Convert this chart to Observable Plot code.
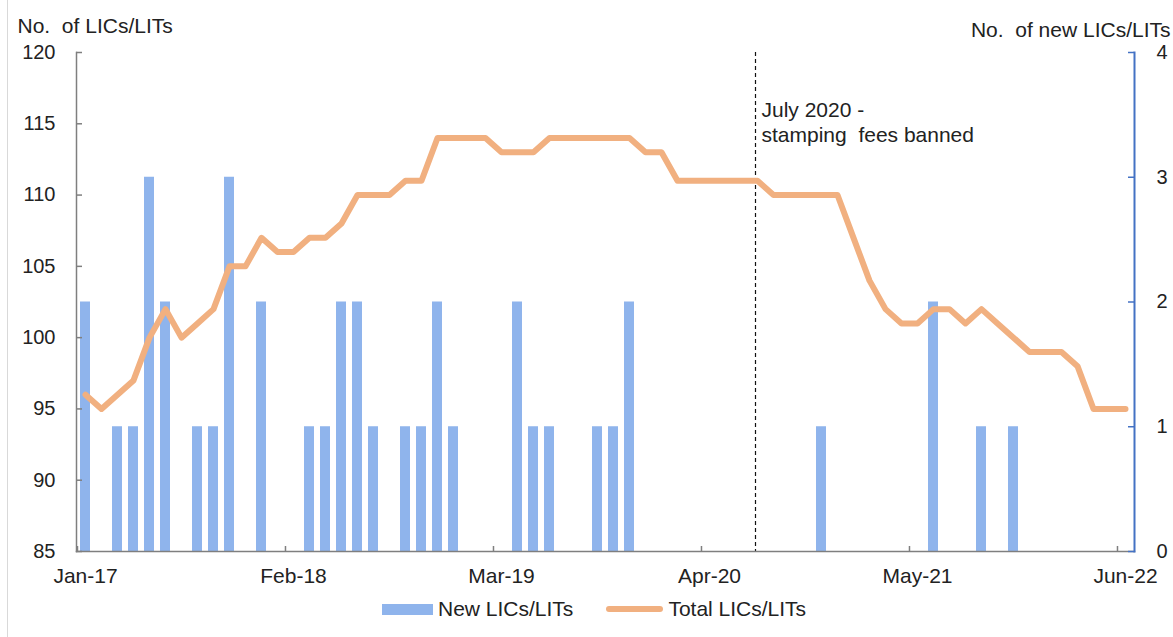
<!DOCTYPE html>
<html>
<head>
<meta charset="utf-8">
<script src="https://cdn.jsdelivr.net/npm/d3@7"></script>
<script src="https://cdn.jsdelivr.net/npm/@observablehq/plot@0.6"></script>
<style>
  body { margin: 0; background: #fff; font-family: "Liberation Sans", Arial, sans-serif; }
  #wrap { position: relative; width: 1173px; height: 637px; overflow: hidden; background: #fff; }
  #border { position: absolute; left: 7px; top: 0; width: 1px; height: 637px; background: #d9d9d9; }
  #legend { position: absolute; left: 382px; top: 596px; height: 26px; display: flex; align-items: center;
            font-size: 21px; color: #222; white-space: pre; }
  .sw1 { width: 51px; height: 11px; background: #8FB4EC; display: inline-block; }
  .sw2 { width: 57px; height: 6px; background: #F1B080; border-radius: 3px; display: inline-block; margin-left: 33px; }
  .lt { margin-left: 5px; }
</style>
</head>
<body>
<div id="wrap">
  <div id="chart"></div>
  <div id="border"></div>
  <div id="legend"><span class="sw1"></span><span class="lt">New LICs/LITs</span><span class="sw2"></span><span class="lt">Total LICs/LITs</span></div>
</div>
<script>
// ---- Data ----
const months = [
  "Jan-17","Feb-17","Mar-17","Apr-17","May-17","Jun-17","Jul-17","Aug-17","Sep-17","Oct-17","Nov-17","Dec-17",
  "Jan-18","Feb-18","Mar-18","Apr-18","May-18","Jun-18","Jul-18","Aug-18","Sep-18","Oct-18","Nov-18","Dec-18",
  "Jan-19","Feb-19","Mar-19","Apr-19","May-19","Jun-19","Jul-19","Aug-19","Sep-19","Oct-19","Nov-19","Dec-19",
  "Jan-20","Feb-20","Mar-20","Apr-20","May-20","Jun-20","Jul-20","Aug-20","Sep-20","Oct-20","Nov-20","Dec-20",
  "Jan-21","Feb-21","Mar-21","Apr-21","May-21","Jun-21","Jul-21","Aug-21","Sep-21","Oct-21","Nov-21","Dec-21",
  "Jan-22","Feb-22","Mar-22","Apr-22","May-22","Jun-22"
];
const totalLICs = [
  96,95,96,97,100,102,100,101,102,105,
  105,107,106,106,107,107,108,110,110,110,
  111,111,114,114,114,114,113,113,113,114,
  114,114,114,114,114,113,113,111,111,111,
  111,111,111,110,110,110,110,110,107,104,
  102,101,101,102,102,101,102,101,100,99,
  99,99,98,95,95,95
];
const newLICs = [
  2,0,1,1,3,2,0,1,1,3,
  0,2,0,0,1,1,2,2,1,0,
  1,1,2,1,0,0,0,2,1,1,
  0,0,1,1,2,0,0,0,0,0,
  0,0,0,0,0,0,1,0,0,0,
  0,0,0,2,0,0,1,0,1,0,
  0,0,0,0,0,0
];
const leftTicks = [85, 90, 95, 100, 105, 110, 115, 120];
const rightTicks = [0, 1, 2, 3, 4];
const xTickLabels = ["Jan-17", "Feb-18", "Mar-19", "Apr-20", "May-21", "Jun-22"];
const eventMonth = "Jul-20";
const eventLabel = "July 2020 -\nstamping  fees banned";
const leftTitle = "No.  of LICs/LITs";
const rightTitle = "No.  of new LICs/LITs";

// ---- Dual-axis mapping (right axis 0..4 onto left axis 85..120) ----
const leftMin = 85, leftMax = 120, rightMax = 4;
const toLeft = v => leftMin + v * (leftMax - leftMin) / rightMax;
const fromLeft = v => Math.round((v - leftMin) * rightMax / (leftMax - leftMin));

const data = months.map((m, i) => ({month: m, total: totalLICs[i], nw: newLICs[i]}));
const bars = data.filter(d => d.nw > 0);

const W = 1173, H = 590;
const mL = 76, mR = 39, mT = 52, mB = 39;
const plotW = W - mL - mR, plotH = H - mT - mB;
const step = plotW / months.length;
const grey = "#7f7f7f", blue = "#4472C4";

const chart = Plot.plot({
  width: W, height: H,
  marginLeft: mL, marginRight: mR, marginTop: mT, marginBottom: mB,
  style: {fontFamily: "Liberation Sans, Arial, sans-serif", fontSize: "21px", color: "#222", background: "white", overflow: "visible"},
  x: {type: "band", domain: months, paddingInner: 0.35, paddingOuter: 0.175, axis: null},
  y: {domain: [leftMin, leftMax], axis: null},
  marks: [
    Plot.barY(bars, {x: "month", y1: leftMin, y2: d => toLeft(d.nw), fill: "#8FB4EC"}),
    Plot.ruleX([eventMonth], {x: d => d, stroke: "#111", strokeWidth: 1.2, strokeDasharray: "4,3", dx: -2}),
    Plot.text([eventLabel], {x: () => eventMonth, text: d => d, frameAnchor: "top", dy: 47, dx: 4,
      textAnchor: "start", lineAnchor: "top", lineHeight: 1.17, fontSize: 21, fill: "#222"}),
    Plot.lineY(data, {x: "month", y: "total", stroke: "#F1B080", strokeWidth: 6, strokeLinejoin: "round", strokeLinecap: "round"}),
    // axis lines
    Plot.frame({anchor: "left", stroke: grey, strokeWidth: 1.5}),
    Plot.frame({anchor: "bottom", stroke: grey, strokeWidth: 1.5}),
    Plot.frame({anchor: "right", stroke: blue, strokeWidth: 2}),
    // left axis
    Plot.ruleY(leftTicks, {y: d => d, insetRight: plotW - 6, stroke: grey, strokeWidth: 1.5}),
    Plot.axisY(leftTicks, {anchor: "left", tickSize: 0, tickPadding: 21, fontSize: 20, label: null, fill: "#222"}),
    // right axis
    Plot.ruleY(rightTicks.map(toLeft), {y: d => d, insetLeft: plotW - 6, stroke: blue, strokeWidth: 1.5}),
    Plot.axisY(rightTicks.map(toLeft), {anchor: "right", tickSize: 0, tickPadding: 22, fontSize: 20, label: null,
      tickFormat: d => String(fromLeft(d)), fill: "#222"}),
    // x axis
    Plot.ruleX(xTickLabels, {x: d => d, dx: -step / 2, insetTop: plotH - 5, stroke: grey, strokeWidth: 1.5}),
    Plot.axisX(xTickLabels, {anchor: "bottom", tickSize: 0, tickPadding: 17, fontSize: 21, label: null, fill: "#222"}),
    // axis titles
    Plot.text([leftTitle], {text: d => d, frameAnchor: "top-left", dx: -59, dy: -34, textAnchor: "start", fontSize: 21, fill: "#222"}),
    Plot.text([rightTitle], {text: d => d, frameAnchor: "top-right", dx: 36, dy: -30, textAnchor: "end", fontSize: 21, fill: "#222"})
  ]
});
document.getElementById("chart").appendChild(chart);
</script>
</body>
</html>
